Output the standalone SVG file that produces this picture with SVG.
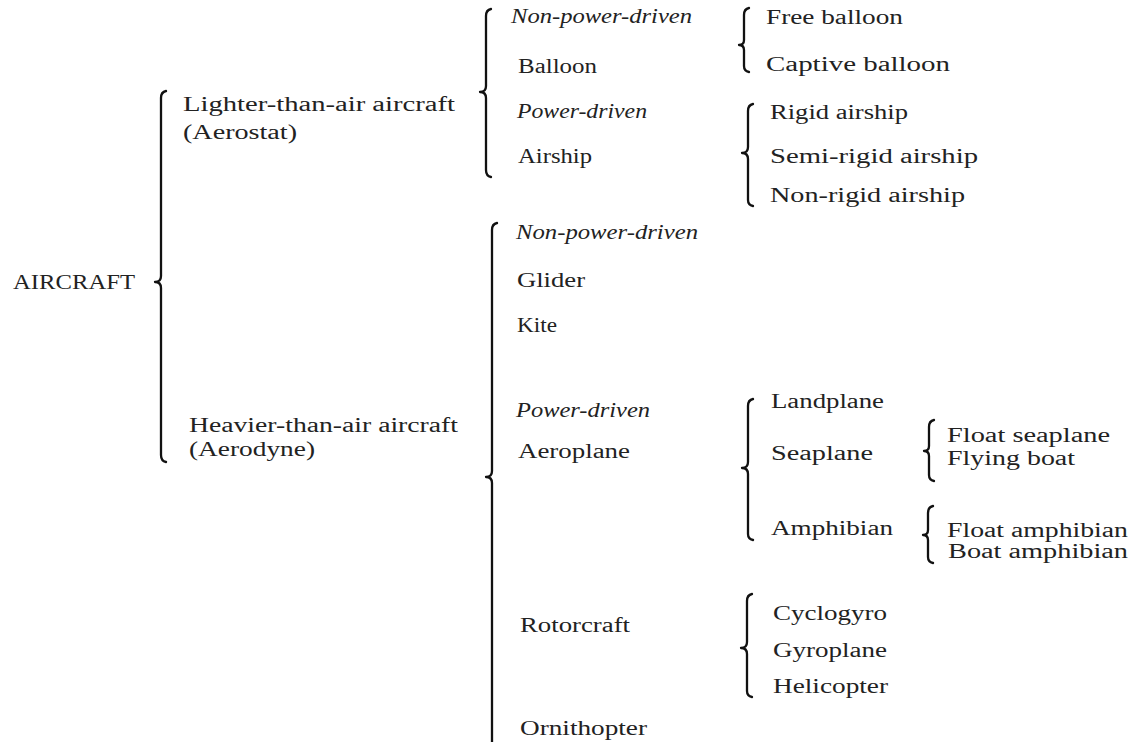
<svg xmlns="http://www.w3.org/2000/svg" width="1137" height="742" viewBox="0 0 1137 742">
<style>
text{font-family:"Liberation Serif","Times New Roman",serif;font-size:20px;fill:#222}
.it{font-style:italic}
.big{font-size:22px}
.br{fill:none;stroke:#111;stroke-width:2.3;stroke-linecap:round;stroke-linejoin:round}
</style>
<rect width="1137" height="742" fill="#fff"/>
<g id="connectors">
<path class="br" d="M166 91 Q161 92 161 98 L161 276 Q161 282 155 282 Q161 282 161 288 L161 455 Q161 461 166 462"/>
<path class="br" d="M491 9 Q486 10 486 16 L486 86 Q486 92 480 92 Q486 92 486 98 L486 170 Q486 176 491 177"/>
<path class="br" d="M749 8 Q744 9 744 15 L744 40 Q744 45 739 45 Q744 45 744 50 L744 66 Q744 71 749 72"/>
<path class="br" d="M753 104 Q748 105 748 111 L748 147 Q748 153 742 153 Q748 153 748 159 L748 200 Q748 205 753 206"/>
<path class="br" d="M497 223 Q492 224 492 230 L492 471 Q492 477 486 477 Q492 477 492 483 L492 742"/>
<path class="br" d="M753 399 Q748 400 748 406 L748 462 Q748 468 742 468 Q748 468 748 474 L748 534 Q748 539 753 540"/>
<path class="br" d="M934 420 Q929 421 929 427 L929 446 Q929 451 924 451 Q929 451 929 456 L929 475 Q929 480 934 481"/>
<path class="br" d="M933 506 Q928 507 928 513 L928 530 Q928 535 923 535 Q928 535 928 540 L928 557 Q928 562 933 563"/>
<path class="br" d="M752 594 Q747 595 747 601 L747 642 Q747 648 741 648 Q747 648 747 654 L747 691 Q747 696 752 697"/>
</g>
<g id="aircraft"><text class="big" x="13" y="289" textLength="122" lengthAdjust="spacingAndGlyphs">AIRCRAFT</text></g>
<g id="lighter">
<text x="183" y="111" textLength="272" lengthAdjust="spacingAndGlyphs">Lighter-than-air  aircraft</text>
<text x="183" y="139" textLength="114" lengthAdjust="spacingAndGlyphs">(Aerostat)</text>
</g>
<g id="heavier">
<text x="189" y="432" textLength="269" lengthAdjust="spacingAndGlyphs">Heavier-than-air  aircraft</text>
<text x="189" y="456" textLength="126" lengthAdjust="spacingAndGlyphs">(Aerodyne)</text>
</g>
<g id="lta-nonpower"><text class="it" x="511" y="23" textLength="181" lengthAdjust="spacingAndGlyphs">Non-power-driven</text></g>
<g id="balloon"><text x="518" y="73" textLength="79" lengthAdjust="spacingAndGlyphs">Balloon</text></g>
<g id="lta-power"><text class="it" x="517" y="118" textLength="130" lengthAdjust="spacingAndGlyphs">Power-driven</text></g>
<g id="airship"><text x="518" y="163" textLength="74" lengthAdjust="spacingAndGlyphs">Airship</text></g>
<g id="free-balloon"><text x="766" y="24" textLength="137" lengthAdjust="spacingAndGlyphs">Free balloon</text></g>
<g id="captive-balloon"><text x="766" y="71" textLength="184" lengthAdjust="spacingAndGlyphs">Captive  balloon</text></g>
<g id="rigid"><text x="770" y="119" textLength="138" lengthAdjust="spacingAndGlyphs">Rigid  airship</text></g>
<g id="semi-rigid"><text x="770" y="163" textLength="208" lengthAdjust="spacingAndGlyphs">Semi-rigid  airship</text></g>
<g id="non-rigid"><text x="770" y="202" textLength="195" lengthAdjust="spacingAndGlyphs">Non-rigid  airship</text></g>
<g id="hta-nonpower"><text class="it" x="516" y="239" textLength="182" lengthAdjust="spacingAndGlyphs">Non-power-driven</text></g>
<g id="glider"><text x="517" y="287" textLength="68" lengthAdjust="spacingAndGlyphs">Glider</text></g>
<g id="kite"><text x="517" y="332" textLength="40" lengthAdjust="spacingAndGlyphs">Kite</text></g>
<g id="hta-power"><text class="it" x="516" y="417" textLength="134" lengthAdjust="spacingAndGlyphs">Power-driven</text></g>
<g id="aeroplane"><text x="518" y="458" textLength="112" lengthAdjust="spacingAndGlyphs">Aeroplane</text></g>
<g id="landplane"><text x="771" y="408" textLength="113" lengthAdjust="spacingAndGlyphs">Landplane</text></g>
<g id="seaplane"><text x="771" y="460" textLength="102" lengthAdjust="spacingAndGlyphs">Seaplane</text></g>
<g id="amphibian"><text x="771" y="535" textLength="122" lengthAdjust="spacingAndGlyphs">Amphibian</text></g>
<g id="float-seaplane"><text x="947" y="442" textLength="163" lengthAdjust="spacingAndGlyphs">Float seaplane</text></g>
<g id="flying-boat"><text x="947" y="465" textLength="128" lengthAdjust="spacingAndGlyphs">Flying  boat</text></g>
<g id="float-amphibian"><text x="947" y="537" textLength="181" lengthAdjust="spacingAndGlyphs">Float amphibian</text></g>
<g id="boat-amphibian"><text x="948" y="558" textLength="180" lengthAdjust="spacingAndGlyphs">Boat  amphibian</text></g>
<g id="rotorcraft"><text x="520" y="632" textLength="110" lengthAdjust="spacingAndGlyphs">Rotorcraft</text></g>
<g id="ornithopter"><text x="520" y="735" textLength="127" lengthAdjust="spacingAndGlyphs">Ornithopter</text></g>
<g id="cyclogyro"><text x="773" y="620" textLength="114" lengthAdjust="spacingAndGlyphs">Cyclogyro</text></g>
<g id="gyroplane"><text x="773" y="657" textLength="114" lengthAdjust="spacingAndGlyphs">Gyroplane</text></g>
<g id="helicopter"><text x="773" y="693" textLength="115" lengthAdjust="spacingAndGlyphs">Helicopter</text></g>
</svg>
